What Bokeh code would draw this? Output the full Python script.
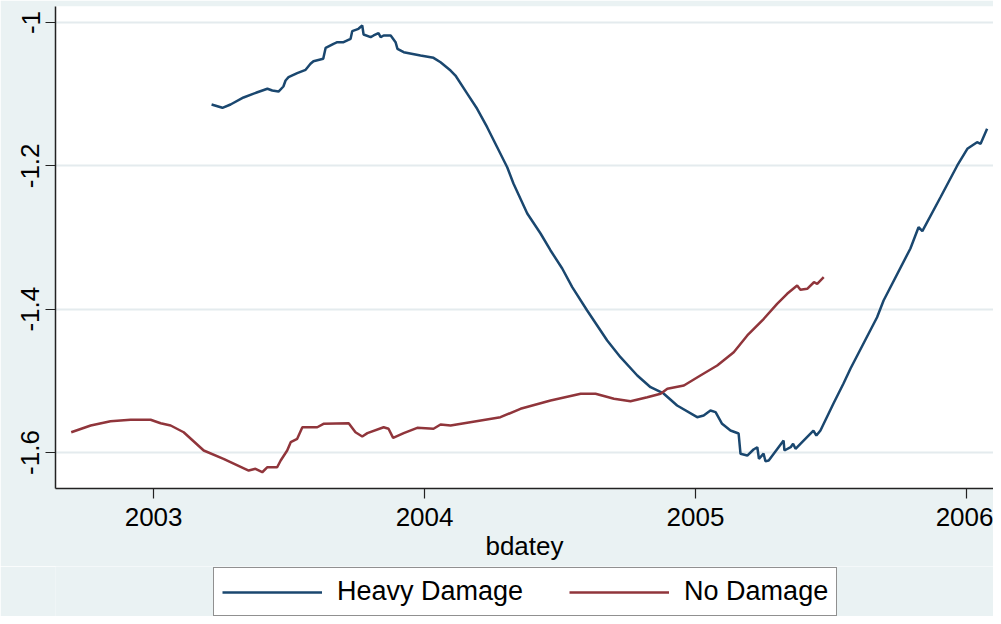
from bokeh.plotting import figure
from bokeh.models import Legend, LegendItem, FixedTicker, Range1d
from bokeh.layouts import column
from bokeh.embed import file_html
from bokeh.resources import INLINE

# ---- data ----
heavy_x = [2003.214, 2003.254, 2003.284, 2003.332, 2003.383, 2003.420, 2003.438, 2003.461,
           2003.479, 2003.487, 2003.498, 2003.530, 2003.561, 2003.579, 2003.590, 2003.626,
           2003.635, 2003.664, 2003.678, 2003.701, 2003.727, 2003.733, 2003.756, 2003.770,
           2003.775, 2003.801, 2003.812, 2003.830, 2003.838, 2003.849, 2003.875, 2003.893,
           2003.900, 2003.923, 2003.985, 2004.033, 2004.059, 2004.096, 2004.114, 2004.158,
           2004.194, 2004.231, 2004.268, 2004.305, 2004.328, 2004.379, 2004.428, 2004.465,
           2004.508, 2004.545, 2004.600, 2004.674, 2004.723, 2004.785, 2004.834, 2004.882,
           2004.932, 2005.006, 2005.030, 2005.055, 2005.074, 2005.098, 2005.129, 2005.159,
           2005.166, 2005.191, 2005.214, 2005.228, 2005.234, 2005.251, 2005.258, 2005.270,
           2005.325, 2005.328, 2005.351, 2005.360, 2005.369, 2005.387, 2005.435, 2005.446,
           2005.461, 2005.509, 2005.546, 2005.572, 2005.670, 2005.694, 2005.793, 2005.823,
           2005.837, 2005.904, 2005.966, 2006.003, 2006.039, 2006.052, 2006.076]
heavy_y = [-1.1144, -1.1190, -1.1144, -1.1046, -1.0973, -1.0925, -1.0949, -1.0963,
           -1.0893, -1.0809, -1.0763, -1.0707, -1.0660, -1.0576, -1.0540, -1.0506,
           -1.0353, -1.0297, -1.0275, -1.0275, -1.0227, -1.0121, -1.0088, -1.0042,
           -1.0167, -1.0205, -1.0181, -1.0149, -1.0205, -1.0181, -1.0181, -1.0275,
           -1.0367, -1.0414, -1.0460, -1.0493, -1.0554, -1.0670, -1.0740, -1.0995,
           -1.1204, -1.1461, -1.1740, -1.2019, -1.2246, -1.2665, -1.2944, -1.3181,
           -1.3432, -1.3693, -1.4018, -1.4437, -1.4670, -1.4925, -1.5089, -1.5176,
           -1.5344, -1.5507, -1.5483, -1.5414, -1.5437, -1.5599, -1.5693, -1.5735,
           -1.6018, -1.6042, -1.5958, -1.5926, -1.6088, -1.6014, -1.6121, -1.6111,
           -1.5832, -1.5972, -1.5926, -1.5878, -1.5948, -1.5878, -1.5693, -1.5763,
           -1.5693, -1.5316, -1.5037, -1.4828, -1.4112, -1.3879, -1.3153, -1.2856,
           -1.2912, -1.2438, -1.1995, -1.1762, -1.1670, -1.1693, -1.1483]

none_x = [2002.696, 2002.768, 2002.841, 2002.915, 2002.989, 2003.026, 2003.063, 2003.111,
          2003.185, 2003.258, 2003.351, 2003.376, 2003.401, 2003.420, 2003.456, 2003.469,
          2003.493, 2003.506, 2003.530, 2003.549, 2003.604, 2003.627, 2003.720, 2003.745,
          2003.770, 2003.789, 2003.849, 2003.867, 2003.884, 2003.923, 2003.973, 2004.033,
          2004.059, 2004.096, 2004.280, 2004.354, 2004.465, 2004.576, 2004.631, 2004.699,
          2004.760, 2004.822, 2004.871, 2004.896, 2004.957, 2005.018, 2005.080, 2005.141,
          2005.191, 2005.252, 2005.301, 2005.338, 2005.375, 2005.387, 2005.412, 2005.437,
          2005.449, 2005.473]
none_y = [-1.5717, -1.5623, -1.5563, -1.5543, -1.5543, -1.5591, -1.5623, -1.5717,
          -1.5972, -1.6088, -1.6251, -1.6227, -1.6275, -1.6205, -1.6205, -1.6111,
          -1.5972, -1.5856, -1.5809, -1.5647, -1.5647, -1.5599, -1.5591, -1.5717,
          -1.5776, -1.5730, -1.5647, -1.5669, -1.5795, -1.5730, -1.5655, -1.5669,
          -1.5609, -1.5623, -1.5507, -1.5390, -1.5274, -1.5181, -1.5181, -1.5250,
          -1.5284, -1.5228, -1.5181, -1.5111, -1.5065, -1.4925, -1.4786, -1.4600,
          -1.4367, -1.4134, -1.3925, -1.3785, -1.3670, -1.3730, -1.3716, -1.3624,
          -1.3646, -1.3554]

series_names = ["Heavy Damage", "No Damage"]
x_ticks = [2003, 2004, 2005, 2006]
x_tick_labels = ["2003", "2004", "2005", "2006"]
y_ticks = [-1.6, -1.4, -1.2, -1.0]
y_tick_labels = ["-1.6", "-1.4", "-1.2", "-1"]
x_title = "bdatey"

FONT = "Liberation Sans"
BG = "#EAF2F3"
BLUE = "#1A476F"
RED = "#90353B"

# ---- main chart ----
p = figure(width=993, height=566, output_backend="svg", toolbar_location=None,
           x_range=Range1d(2002.638, 2006.0996), y_range=Range1d(-1.6502, -0.97768),
           min_border_left=55, min_border_right=0, min_border_top=6, min_border_bottom=78)

p.background_fill_color = "white"
p.border_fill_color = BG
p.outline_line_color = None

r1 = p.line(heavy_x, heavy_y, line_color=BLUE, line_width=2.5)
r2 = p.line(none_x, none_y, line_color=RED, line_width=2.5)

for ax in (p.xaxis[0], p.yaxis[0]):
    ax.axis_line_color = "#222222"
    ax.axis_line_width = 1.5
    ax.major_tick_line_color = "#222222"
    ax.major_tick_line_width = 1.2
    ax.major_tick_out = 10
    ax.major_tick_in = 0
    ax.minor_tick_out = 0
    ax.minor_tick_in = 0
    ax.major_label_text_font = FONT
    ax.major_label_text_font_size = "26px"
    ax.major_label_text_color = "black"

p.xaxis.ticker = FixedTicker(ticks=x_ticks)
p.xaxis.major_label_overrides = {t: l for t, l in zip(x_ticks, x_tick_labels)}
p.xaxis.major_label_standoff = 9
p.xaxis.axis_label = x_title
p.xaxis.axis_label_text_font = FONT
p.xaxis.axis_label_text_font_size = "26px"
p.xaxis.axis_label_text_font_style = "normal"
p.xaxis.axis_label_text_color = "black"
p.xaxis.axis_label_standoff = 2

p.yaxis.ticker = FixedTicker(ticks=y_ticks)
p.yaxis.major_label_overrides = {t: l for t, l in zip(y_ticks, y_tick_labels)}
p.yaxis.major_label_orientation = "vertical"
p.yaxis.major_label_standoff = 6

p.xgrid.grid_line_color = None
p.ygrid.grid_line_color = "#E4EBEE"
p.ygrid.grid_line_width = 2

# ---- legend strip (keys reuse the data; they fall outside this strip's ranges) ----
lg = figure(width=993, height=50, output_backend="svg", toolbar_location=None,
            x_range=Range1d(0, 1), y_range=Range1d(0, 1),
            min_border_left=55, min_border_right=0, min_border_top=0, min_border_bottom=0)
lg.axis.visible = False
lg.grid.visible = False
lg.outline_line_color = None
lg.background_fill_color = BG
lg.border_fill_color = BG
k1 = lg.line(heavy_x, heavy_y, line_color=BLUE, line_width=2.5)
k2 = lg.line(none_x, none_y, line_color=RED, line_width=2.5)

legend = Legend(items=[LegendItem(label=series_names[0], renderers=[k1]),
                       LegendItem(label=series_names[1], renderers=[k2])],
                orientation="horizontal", location=(158, 0))
legend.label_text_font = FONT
legend.label_text_font_size = "27px"
legend.label_text_color = "black"
legend.glyph_width = 100
legend.glyph_height = 20
legend.label_standoff = 15
legend.spacing = 46
legend.padding = 8
legend.margin = 0
legend.border_line_color = "#222222"
legend.border_line_width = 1.5
legend.background_fill_color = "white"
legend.background_fill_alpha = 1.0
lg.add_layout(legend, "center")

open("out.html", "w").write(file_html(column(p, lg, spacing=0), INLINE))
